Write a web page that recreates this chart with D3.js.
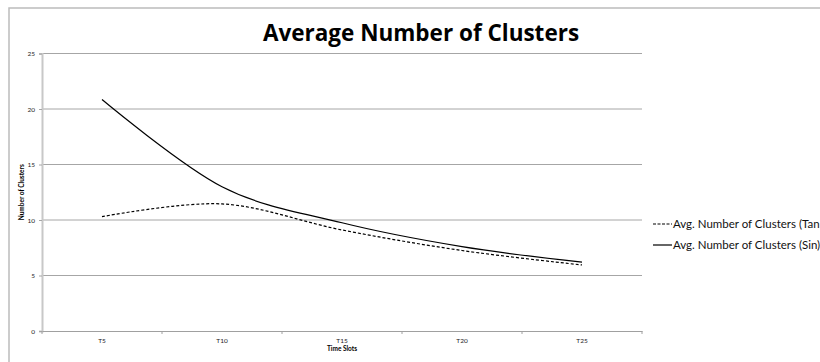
<!DOCTYPE html>
<html>
<head>
<meta charset="utf-8">
<script src="https://cdn.jsdelivr.net/npm/d3@7"></script>
<style>
  html, body { margin: 0; padding: 0; background: #fff; }
  svg { display: block; }
</style>
</head>
<body>
<svg id="chart" width="820" height="362"></svg>
<script>
// Time slot categories on the x axis
const categories = ["T5", "T10", "T15", "T20", "T25"];
// Average number of clusters per time slot
const tanValues = [10.3, 11.45, 9.1, 7.25, 5.95];
const sinValues = [20.85, 13.0, 9.75, 7.6, 6.2];
// Value axis ticks
const yTicks = [0, 5, 10, 15, 20, 25];
const seriesNames = ["Avg. Number of Clusters (Tan", "Avg. Number of Clusters (Sin)"];

const font = "Lato, 'Open Sans', sans-serif";
const svg = d3.select("#chart");

// Chart frame
svg.append("rect")
  .attr("x", 9).attr("y", 8)
  .attr("width", 830).attr("height", 380)
  .attr("fill", "#fff")
  .attr("stroke", "#bcbcbc").attr("stroke-width", 1.5);

const plot = { left: 42, right: 642, top: 53.5, bottom: 331 };

const x = d3.scaleBand().domain(categories).range([plot.left, plot.right]).padding(0);
const y = d3.scaleLinear().domain([0, 25]).range([plot.bottom, plot.top]);

// Horizontal gridlines
svg.append("g")
  .selectAll("line")
  .data(yTicks.filter(t => t > 0))
  .join("line")
  .attr("x1", plot.left).attr("x2", plot.right)
  .attr("y1", d => y(d)).attr("y2", d => y(d))
  .attr("stroke", "#a6a6a6").attr("stroke-width", 1);

// Value axis
const yAxis = svg.append("g")
  .attr("transform", `translate(${plot.left},0)`)
  .call(d3.axisLeft(y).tickValues(yTicks).tickSize(3).tickPadding(4));
yAxis.select(".domain").attr("stroke", "#c8c8c8").attr("stroke-width", 2);
yAxis.selectAll(".tick line").attr("stroke", "#a6a6a6");
yAxis.selectAll("text")
  .attr("font-family", font).attr("font-size", 6.5).attr("fill", "#222");

// Category axis
const xAxis = svg.append("g")
  .attr("transform", `translate(0,${plot.bottom})`)
  .call(d3.axisBottom(x).tickSize(0).tickPadding(7));
xAxis.select(".domain").attr("stroke", "#a0a0a0").attr("stroke-width", 1);
xAxis.selectAll("text")
  .attr("font-family", font).attr("font-size", 6.5).attr("fill", "#222");
// Tick marks between categories
svg.append("g")
  .selectAll("line")
  .data(categories.map(c => x(c)).concat([plot.right]))
  .join("line")
  .attr("x1", d => d).attr("x2", d => d)
  .attr("y1", plot.bottom).attr("y2", plot.bottom + 3)
  .attr("stroke", "#a0a0a0");

// Axis titles
svg.append("text")
  .attr("x", (plot.left + plot.right) / 2).attr("y", 351)
  .attr("text-anchor", "middle")
  .attr("font-family", font).attr("font-size", 6.5).attr("font-weight", "bold")
  .text("Time Slots");
svg.append("text")
  .attr("transform", `translate(24,${(plot.top + plot.bottom) / 2}) rotate(-90)`)
  .attr("text-anchor", "middle")
  .attr("font-family", font).attr("font-size", 6.5).attr("font-weight", "bold")
  .text("Number of Clusters");

// Chart title
svg.append("text")
  .attr("x", 421).attr("y", 41)
  .attr("text-anchor", "middle")
  .attr("font-family", "'Open Sans', sans-serif").attr("font-size", 22.5).attr("font-weight", "bold")
  .text("Average Number of Clusters");

// Smoothed series lines
const line = d3.line()
  .x((d, i) => x(categories[i]) + x.bandwidth() / 2)
  .y(d => y(d))
  .curve(d3.curveCatmullRom.alpha(0));

svg.append("path")
  .datum(tanValues)
  .attr("d", line)
  .attr("fill", "none").attr("stroke", "#000").attr("stroke-width", 1.2)
  .attr("stroke-dasharray", "3,2");
svg.append("path")
  .datum(sinValues)
  .attr("d", line)
  .attr("fill", "none").attr("stroke", "#000").attr("stroke-width", 1.2);

// Legend
const legend = svg.append("g");
const rows = [{ name: seriesNames[0], dash: "3,1.5", y: 224 }, { name: seriesNames[1], dash: null, y: 245 }];
rows.forEach(r => {
  legend.append("line")
    .attr("x1", 653).attr("x2", 672).attr("y1", r.y).attr("y2", r.y)
    .attr("stroke", "#000").attr("stroke-width", 1.2)
    .attr("stroke-dasharray", r.dash);
  legend.append("text")
    .attr("x", 673).attr("y", r.y + 4)
    .attr("font-family", font).attr("font-size", 11.5).attr("fill", "#111")
    .text(r.name);
});
</script>
</body>
</html>
